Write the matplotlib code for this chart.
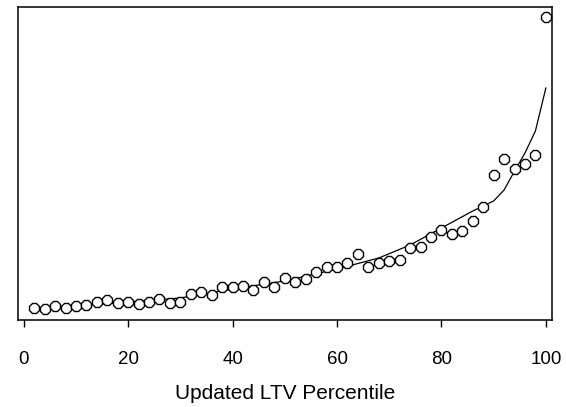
import matplotlib
matplotlib.use("Agg")
import matplotlib.pyplot as plt

pct = [2, 4, 6, 8, 10, 12, 14, 16, 18, 20, 22, 24, 26, 28, 30, 32, 34, 36, 38, 40,
       42, 44, 46, 48, 50, 52, 54, 56, 58, 60, 62, 64, 66, 68, 70, 72, 74, 76, 78, 80,
       82, 84, 86, 88, 90, 92, 94, 96, 98, 100]
observed = [12, 11, 14, 12, 14, 15, 18, 20, 17, 18, 16, 18, 21, 17, 18, 26, 28, 25, 33, 33,
            34, 30, 38, 33, 42, 38, 41, 48, 53, 53, 57, 66, 53, 57, 59, 60, 72, 73, 83, 90,
            86, 89, 99, 113, 145, 161, 151, 156, 165, 303]

# Fitted curve
fit_x = [2, 10, 20, 30, 40, 50, 60, 68, 74, 80, 86, 88, 90, 92, 94, 96, 98, 100]
fit_y = [11, 14, 18, 22, 31, 39, 51, 62, 75, 92, 109, 114, 119, 130, 149, 167, 189, 232]

xticks = [0, 20, 40, 60, 80, 100]
xlabel = "Updated LTV Percentile"

plt.rcParams['font.family'] = ['Liberation Sans', 'DejaVu Sans']

fig = plt.figure(figsize=(5.66, 4.07), dpi=100)
ax = fig.add_axes([18/566, 1 - 320/407, (551.6 - 18)/566, (320 - 7)/407])

ax.plot(fit_x, fit_y, color='black', lw=0.9, zorder=2)
ax.plot(pct, observed, linestyle='none', marker='8', markersize=8,
        markerfacecolor='white', markeredgecolor='black', markeredgewidth=1.0, zorder=3)

ax.set_xlim(-1.1, 101.1)
ax.set_ylim(0, 313)
ax.set_xticks(xticks)
ax.set_xticklabels([str(t) for t in xticks])
ax.set_yticks([])
ax.tick_params(axis='x', direction='out', length=5, width=1, pad=17, labelsize=13.5)
for s in ax.spines.values():
    s.set_linewidth(1.1)
ax.set_xlabel(xlabel, fontsize=15, labelpad=12)

fig.savefig("out.png", dpi=100)
